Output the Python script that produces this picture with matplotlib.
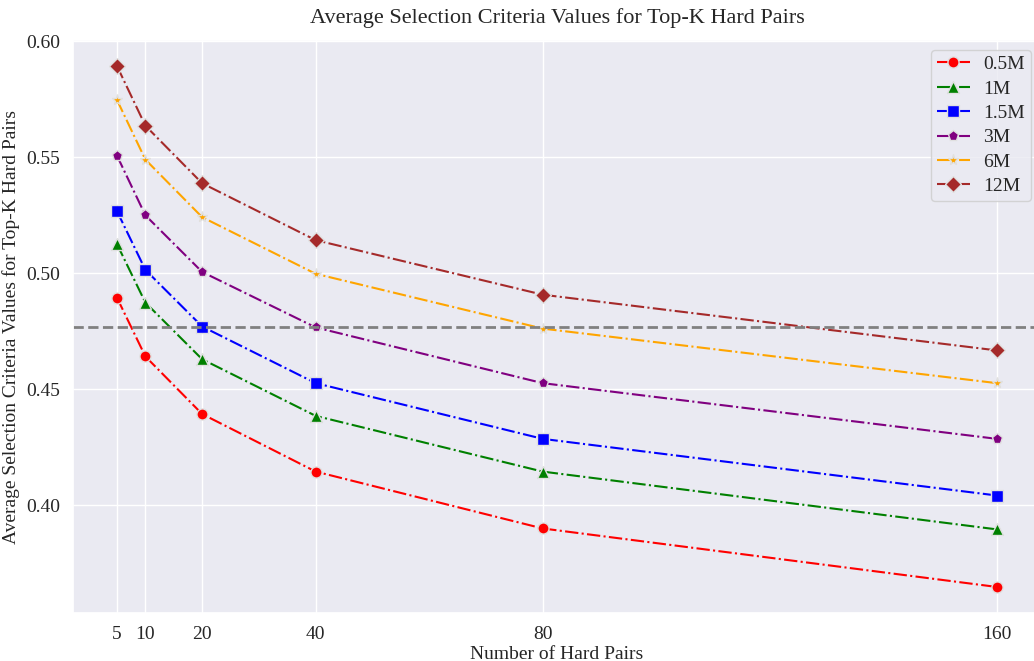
import numpy as np
import matplotlib
matplotlib.use("Agg")
import matplotlib.pyplot as plt
import seaborn as sns

k_values = [5, 10, 20, 40, 80, 160]
series_names = ["0.5M", "1M", "1.5M", "3M", "6M", "12M"]
vals_05m = [0.4895, 0.4642, 0.4394, 0.4146, 0.3901, 0.3649]
vals_1m = [0.5126, 0.4874, 0.4630, 0.4386, 0.4146, 0.3897]
vals_15m = [0.5268, 0.5015, 0.4771, 0.4527, 0.4287, 0.4043]
vals_3m = [0.5507, 0.5250, 0.5006, 0.4767, 0.4527, 0.4287]
vals_6m = [0.5747, 0.5490, 0.5242, 0.4998, 0.4762, 0.4527]
vals_12m = [0.5893, 0.5636, 0.5388, 0.5143, 0.4908, 0.4668]
ref_line = 0.4767

colors = ["red", "green", "blue", "purple", "orange", "brown"]
markers = ["o", "^", "s", "p", "*", "D"]

sns.set_theme(style="darkgrid")
plt.rcParams["font.family"] = ["Liberation Serif", "DejaVu Serif"]

fig = plt.figure(figsize=(10.34, 6.61), dpi=100)
# right edge of the axes runs slightly past the image, as in the reference
ax = fig.add_axes([0.0706, 0.0726, 0.936, 0.8669])

all_vals = [vals_05m, vals_1m, vals_15m, vals_3m, vals_6m, vals_12m]
for name, vals, c, m in zip(series_names, all_vals, colors, markers):
    ax.plot(k_values, vals, linestyle="-.", color=c, marker=m, markersize=8,
            markeredgecolor="#e0e0e0", markeredgewidth=1, linewidth=1.5, label=name)

ax.axhline(ref_line, color="gray", linestyle="--", linewidth=2)

ax.set_xticks(k_values)
ax.set_xticklabels([str(k) for k in k_values])
ax.set_yticks([0.40, 0.45, 0.50, 0.55, 0.60])
ax.set_yticklabels(["0.40", "0.45", "0.50", "0.55", "0.60"])
ax.tick_params(labelsize=14)
ax.margins(x=0.05, y=0.05)
ax.set_xlabel("Number of Hard Pairs", fontsize=14, labelpad=2)
ax.set_ylabel("Average Selection Criteria Values for Top-K Hard Pairs", fontsize=14)
ax.set_title("Average Selection Criteria Values for Top-K Hard Pairs", fontsize=16, pad=12)
ax.legend(fontsize=14, loc="upper right", labelspacing=0.35, handlelength=1.7,
          borderpad=0.3, handletextpad=0.7)

fig.savefig("out.png", dpi=100)
